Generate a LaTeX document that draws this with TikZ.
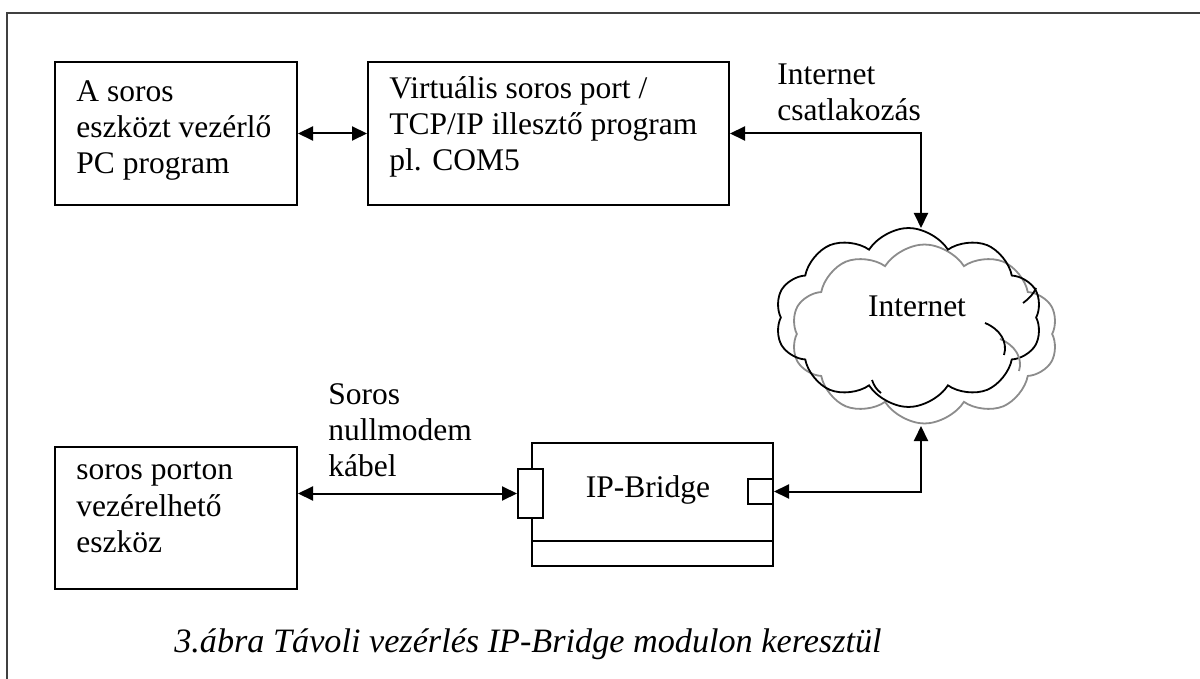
\documentclass[tikz,border=0pt]{standalone}
\usepackage{fontspec}
\setmainfont{Liberation Serif}
\usetikzlibrary{arrows.meta,shapes.symbols}
\begin{document}
\begin{tikzpicture}[x=0.5pt,y=-0.5pt,
  box/.style={draw,line width=1pt,inner sep=0,fill=white},
  lbl/.style={anchor=base west,align=left,inner sep=0,font=\fontsize{15.75}{18}\selectfont},
  conn/.style={line width=1pt,{Triangle[length=7.5pt,width=7pt]}-{Triangle[length=7.5pt,width=7pt]}},
  cloudshape/.style={cloud,cloud puffs=10,cloud puff arc=115,aspect=1.5,inner sep=0,line width=0.9pt,minimum width=133.5pt,minimum height=89.5pt},
  inner/.style={line width=0.9pt}]
\useasboundingbox (0,0) rectangle (1200,679);
\draw[line width=0.8pt,black!75] (7,679) -- (7,13) -- (1200,13);
% boxes
\node[box,minimum width=121pt,minimum height=71.5pt] (A) at (176,133.5) {};
\node[box,minimum width=180.5pt,minimum height=71.5pt] (V) at (548.5,133.5) {};
\node[box,minimum width=121pt,minimum height=71pt] (D) at (176,518) {};
\node[box,minimum width=120.5pt,minimum height=61.5pt] (B) at (652.5,504.5) {};
\coordinate (bl) at (532,541);
\coordinate (br) at (773,541);
\draw[line width=1pt] (bl) -- (br);
\node[box,minimum width=12.5pt,minimum height=24.5pt] (L) at (530.5,493.5) {};
\node[box,minimum width=12.5pt,minimum height=12.5pt] (R) at (760.5,491.5) {};
% clouds
\node[cloudshape,draw=black!45] (C2) at (924.5,334) {};
\node[cloudshape,draw=black] (C) at (908.5,317.5) {};
\begin{scope}[inner,black!45,shift={(15,16)}]
  \draw (985,323) .. controls (1000,329) and (1008,342) .. (1004,355);
\end{scope}
\begin{scope}[inner]
  \draw (985,323) .. controls (1000,329) and (1008,342) .. (1004,355);
  \draw (1023,303) .. controls (1030,298) and (1034,293) .. (1036,288);
  \draw (872,380) .. controls (874,386) and (877,390) .. (881,393);
\end{scope}
% texts
\node[lbl] (tA) at (76,174) {A soros\\eszközt vezérlő\\PC program};
\node[lbl] (tV) at (389,171) {Virtuális soros port /\\TCP/IP illesztő program\\pl. COM5};
\node[lbl] (tI) at (777,121) {Internet\\csatlakozás};
\node[lbl] (tD) at (76,552) {soros porton\\vezérelhető\\eszköz};
\node[lbl] (tS) at (328,476) {Soros\\nullmodem\\kábel};
\node[lbl,anchor=base] (tC) at (917,317) {Internet};
\node[lbl,anchor=base] (tB) at (648,497) {IP-Bridge};
\node[lbl,anchor=base,font=\fontsize{17.1}{20}\selectfont\itshape] (cap) at (528,652) {3.ábra Távoli vezérlés IP-Bridge modulon keresztül};
% connectors
\coordinate (ct) at (921,228);
\coordinate (cb) at (921,426);
\draw[conn] (A.east) -- (V.west);
\draw[conn] (V.east) -| (ct);
\draw[conn] (R.east) -| (cb);
\draw[conn] (D.east |- L.west) -- (L.west);
\end{tikzpicture}
\end{document}
